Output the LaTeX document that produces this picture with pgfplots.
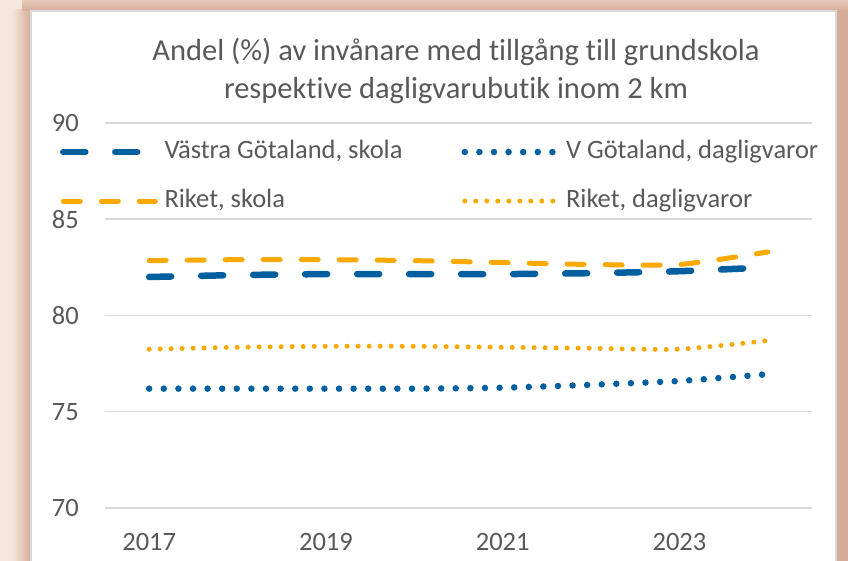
\documentclass[border=0pt]{standalone}
\usepackage{pgfplots}
\pgfplotsset{compat=1.18}
\usepackage{fontspec}
\setmainfont{Carlito}[Ligatures={NoCommon}]
\definecolor{vgblue}{HTML}{005F9E}
\definecolor{rorange}{HTML}{F9A900}
\definecolor{labelgray}{HTML}{595959}
\definecolor{gridgray}{HTML}{D9D9D9}
\definecolor{peach}{HTML}{F7E6DC}
\definecolor{shadowbrown}{HTML}{D4AD98}
\definecolor{shadowlight}{HTML}{E6C9B9}
\newcommand{\tickfont}{\fontsize{26.5bp}{32bp}\selectfont}
\newcommand{\titlefont}{\fontsize{30.5bp}{38bp}\selectfont}

\pgfplotstableread{
year vgskola rskola vgdag rdag
2017 82.00 82.85 76.20 78.25
2018 82.10 82.90 76.20 78.35
2019 82.15 82.90 76.20 78.40
2020 82.15 82.85 76.20 78.40
2021 82.15 82.75 76.25 78.35
2022 82.20 82.65 76.40 78.30
2023 82.30 82.65 76.60 78.25
2024 82.50 83.30 76.95 78.70
}\datatable

\begin{document}
\begin{tikzpicture}
% background
\fill[peach] (0bp,0bp) rectangle (848bp,561bp);
\shade[left color=peach, right color=shadowbrown] (12bp,0bp) rectangle (31bp,551bp);
\shade[top color=shadowlight, bottom color=shadowbrown] (22bp,550bp) rectangle (848bp,561bp);
\fill[shadowbrown] (836bp,0bp) rectangle (848bp,551bp);
\filldraw[fill=white, draw=gridgray, line width=2bp] (31bp,-5bp) rectangle (836bp,550bp);
% title
\node[anchor=base, text=labelgray, font=\titlefont, inner sep=0pt] at (456bp,500bp) {Andel (\%) av invånare med tillgång till grundskola};
\node[anchor=base, text=labelgray, font=\titlefont, inner sep=0pt] at (456bp,462bp) {respektive dagligvarubutik inom 2 km};
\begin{axis}[
  at={(105bp,53bp)}, anchor=south west,
  scale only axis, width=707bp, height=385bp,
  xmin=2016.5, xmax=2024.5, ymin=70, ymax=90,
  xtick={2017,2019,2021,2023}, ytick={70,75,80,85,90},
  axis line style={draw=none},
  major tick length=0pt,
  ymajorgrids, grid style={line width=1.5bp, gridgray},
  /pgf/number format/assume math mode=true,
  /pgf/number format/1000 sep={},
  tick label style={font=\tickfont, text=labelgray, inner sep=0pt},
  yticklabel style={anchor=east, xshift=-26bp},
  xticklabel style={anchor=north, yshift=-25bp},
  clip=false,
  legend columns=2,
  legend image code/.code={\draw[#1] (0bp,0bp) -- (92bp,0bp);},
  legend style={draw=none, fill=none, legend cell align=left,
    font=\tickfont, text=labelgray, row sep=25bp, inner sep=0pt, outer sep=0pt,
    at={(axis description cs:-0.0636,0.861)}, anchor=west,
    /tikz/every even column/.append style={column sep=53bp},
    nodes={inner xsep=6bp, inner ysep=0pt, text height=18bp, text depth=6bp}},
]
\addplot[vgblue, line width=6.5bp, line cap=round, dash pattern=on 22bp off 30bp, smooth, tension=0.4] table[x=year,y=vgskola]{\datatable};
\addlegendentry{Västra Götaland, skola}
\addplot[vgblue, line width=6.5bp, line cap=round, dash pattern=on 0bp off 14.6bp, smooth, tension=0.4] table[x=year,y=vgdag]{\datatable};
\addlegendentry{V Götaland, dagligvaror}
\addplot[rorange, line width=5bp, line cap=round, dash pattern=on 17bp off 21bp, smooth, tension=0.4] table[x=year,y=rskola]{\datatable};
\addlegendentry{Riket, skola}
\addplot[rorange, line width=5bp, line cap=round, dash pattern=on 0bp off 11bp, smooth, tension=0.4] table[x=year,y=rdag]{\datatable};
\addlegendentry{Riket, dagligvaror}
\end{axis}
\pgfresetboundingbox
\path[use as bounding box] (0bp,0bp) rectangle (848bp,561bp);
\end{tikzpicture}
\end{document}
